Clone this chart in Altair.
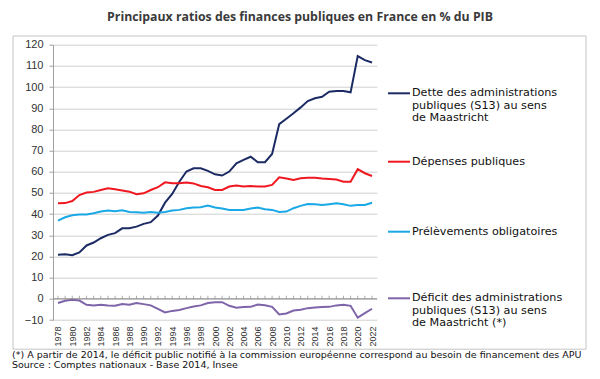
import altair as alt
import pandas as pd

# ---------------- data ----------------
years = list(range(1978, 2023))
series_names = [
    "Dette des administrations publiques (S13) au sens de Maastricht",
    "Dépenses publiques",
    "Prélèvements obligatoires",
    "Déficit des administrations publiques (S13) au sens de Maastricht (*)",
]
colors = ["#1c2b64", "#f01820", "#1aa8e6", "#7e64a8"]

dette = [20.8, 21.0, 20.6, 21.9, 25.2, 26.6, 28.6, 30.2, 31.0, 33.3,
         33.3, 34.1, 35.4, 36.2, 39.3, 45.4, 49.5, 55.3, 60.1, 61.6,
         61.6, 60.4, 58.8, 58.2, 60.1, 64.0, 65.6, 67.1, 64.5, 64.5,
         68.4, 82.5, 85.0, 87.6, 90.4, 93.4, 94.7, 95.4, 97.8, 98.1,
         98.1, 97.5, 114.6, 112.7, 111.6]
depenses = [45.1, 45.2, 46.2, 49.0, 50.2, 50.5, 51.4, 52.2, 51.7, 51.2,
            50.6, 49.4, 49.8, 51.4, 52.7, 55.0, 54.6, 54.6, 54.9, 54.5,
            53.3, 52.7, 51.4, 51.4, 53.0, 53.5, 53.0, 53.3, 53.0, 53.0,
            53.8, 57.4, 56.8, 56.1, 56.9, 57.2, 57.2, 56.8, 56.6, 56.3,
            55.3, 55.3, 61.2, 59.3, 58.0]
prelevements = [36.9, 38.5, 39.5, 39.8, 39.8, 40.4, 41.2, 41.7, 41.4, 41.8,
                41.0, 40.9, 40.6, 41.0, 40.7, 41.0, 41.7, 42.0, 42.8, 43.1,
                43.2, 44.0, 43.1, 42.6, 42.0, 42.0, 42.0, 42.6, 43.1, 42.3,
                42.0, 41.0, 41.2, 42.8, 43.9, 44.8, 44.7, 44.3, 44.7, 45.1,
                44.7, 43.9, 44.3, 44.3, 45.4]
deficit = [-2.0, -0.9, -0.4, -0.8, -2.8, -3.1, -2.8, -3.1, -3.3, -2.5,
           -2.8, -2.0, -2.5, -3.1, -4.7, -6.4, -5.7, -5.3, -4.4, -3.6,
           -3.1, -2.0, -1.6, -1.6, -3.3, -4.2, -3.9, -3.8, -2.7, -3.0,
           -3.8, -7.4, -6.9, -5.5, -5.2, -4.4, -4.1, -3.9, -3.8, -3.1,
           -2.8, -3.3, -8.9, -6.8, -4.7]

y_ticks = list(range(-10, 130, 10))
x_labels = list(range(1978, 2023, 2))

title_text = "Principaux ratios des finances publiques en France en % du PIB"
legend_lines = [
    ["Dette des administrations", "publiques (S13) au sens", "de Maastricht"],
    ["Dépenses publiques"],
    ["Prélèvements obligatoires"],
    ["Déficit des administrations", "publiques (S13) au sens", "de Maastricht (*)"],
]
note_text = ("(*) A partir de 2014, le déficit public notifié à la commission "
             "européenne correspond au besoin de financement des APU")
source_text = "Source : Comptes nationaux - Base 2014, Insee"

rows = []
for name, vals in zip(series_names, [dette, depenses, prelevements, deficit]):
    for yr, v in zip(years, vals):
        rows.append({"annee": yr, "valeur": v, "serie": name})
df = pd.DataFrame(rows)
df_years = pd.DataFrame({"annee": years})
one = pd.DataFrame({"k": [0]})

# ---------------- layout ----------------
W, H = 324, 275.3
PAD_L, PAD_T = 45, 36.7
x_scale = alt.Scale(domain=[1977.3, 2022.7], nice=False, zero=False)
y_scale = alt.Scale(domain=[-10, 120], nice=False, zero=False)

lines = alt.Chart(df).mark_line(strokeWidth=2).encode(
    x=alt.X("annee:Q", scale=x_scale,
            axis=alt.Axis(values=x_labels, format="d", labelAngle=270, title=None,
                          domain=False, ticks=False, grid=False, labelFontSize=9,
                          labelFont="Arial", labelColor="#333333", labelPadding=6,
                          labelFlush=False, labelOverlap=False, orient="bottom")),
    y=alt.Y("valeur:Q", scale=y_scale,
            axis=alt.Axis(values=y_ticks, title=None, grid=True, gridColor="#d0d0d0",
                          domainColor="#a0a0a0", tickColor="#a0a0a0", tickSize=4,
                          labelFontSize=11, labelFont="Arial", labelColor="#333333",
                          labelPadding=6, labelOverlap=False)),
    color=alt.Color("serie:N", scale=alt.Scale(domain=series_names, range=colors),
                    legend=None),
)

# zero line with small year ticks pointing upward
zero_line = alt.Chart(one).mark_rule(color="#8a8a8a", strokeWidth=1).encode(
    y=alt.YDatum(0, axis=None))
zero_ticks = alt.Chart(df_years).mark_tick(orient="vertical", size=3, thickness=1,
                                           color="#8a8a8a", yOffset=-1.5).encode(
    x=alt.X("annee:Q", axis=None), y=alt.YDatum(0, axis=None))


def txt(s, x, y, size=12, align="left", font="DejaVu Sans", **kw):
    return alt.Chart(one).mark_text(text=s, align=align, baseline="middle",
                                    font=font, fontSize=size, color="#111111",
                                    **kw).encode(x=alt.value(x), y=alt.value(y))


annots = []
# outer frame
annots.append(alt.Chart(one).mark_rect(fillOpacity=0, stroke="#c4c4c4", strokeWidth=1).encode(
    x=alt.value(-40), x2=alt.value(533), y=alt.value(-8.7), y2=alt.value(304.5)))
# title
annots.append(alt.Chart(one).mark_text(text=title_text, align="center", baseline="top",
                                       font="Open Sans", fontWeight="bold", fontSize=12.3,
                                       color="#3a3a3a").encode(
    x=alt.value(247), y=alt.value(-PAD_T + 3)))
# legend
legend_y = [[48.6, 60.8, 73.0], [117.0], [187.0], [253.6, 265.8, 278.0]]
for col, lbls, ys in zip(colors, legend_lines, legend_y):
    annots.append(alt.Chart(one).mark_rule(color=col, strokeWidth=2).encode(
        x=alt.value(335), x2=alt.value(357), y=alt.value(ys[0])))
    for s, yy in zip(lbls, ys):
        annots.append(txt(s, 359, yy, size=11.2))
# notes
annots.append(txt(note_text, -41, 310.5, size=9.5))
annots.append(txt(source_text, -41, 320.4, size=9.5))

chart = alt.layer(lines, zero_line, zero_ticks, *annots).resolve_axis(
    x="independent", y="independent"
).properties(
    width=W, height=H,
    padding={"left": PAD_L, "top": PAD_T, "right": 584 - PAD_L - W,
             "bottom": 363 - PAD_T - H},
    autosize=alt.AutoSizeParams(type="none"),
    background="white",
).configure_view(stroke=None)

chart.save("out.html", embed_options={"renderer": "svg", "actions": False})
